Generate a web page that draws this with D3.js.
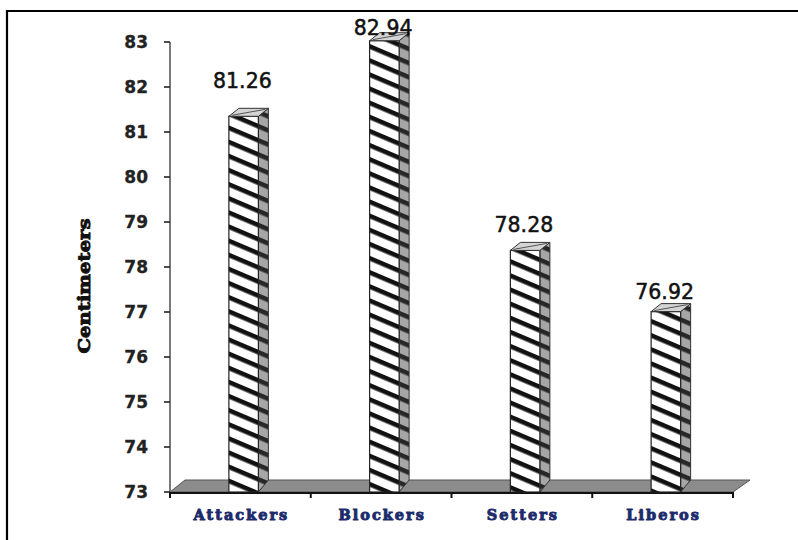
<!DOCTYPE html>
<html>
<head>
<meta charset="utf-8">
<script src="https://cdn.jsdelivr.net/npm/d3@7"></script>
<style>
  html, body { margin: 0; padding: 0; background: #fff; }
  svg { display: block; }
</style>
</head>
<body>
<svg id="chart" width="798" height="540"></svg>
<script>
// Mean measurement per playing position (cm)
const categories = ["Attackers", "Blockers", "Setters", "Liberos"];
const values = [81.26, 82.94, 78.28, 76.92];
const yTicks = [73, 74, 75, 76, 77, 78, 79, 80, 81, 82, 83];
const yTitle = "Centimeters";

const svg = d3.select("#chart");

// Plot geometry
const plotLeft = 170, plotRight = 733, plotTop = 42, plotBottom = 492;
const depthX = 15, depthY = -12;   // floor depth offset
const barDX = 10, barDY = -8;      // bar depth offset
const barLift = 4;                 // bar front plane sits slightly above the axis plane

const x = d3.scaleBand().domain(categories).range([plotLeft, plotRight]).paddingInner(0).paddingOuter(0);
const y = d3.scaleLinear().domain([73, 83]).range([plotBottom, plotTop]);

// Hatch pattern (wide downward diagonal)
const defs = svg.append("defs");
const pat = defs.append("pattern")
  .attr("id", "hatch")
  .attr("patternUnits", "userSpaceOnUse")
  .attr("width", 14).attr("height", 13)
  .attr("patternTransform", "rotate(23)");
pat.append("rect").attr("x", 0).attr("y", 0).attr("width", 14).attr("height", 4.6).attr("fill", "#111");

// Outer frame (top and left edges)
svg.append("line").attr("x1", 7).attr("y1", 11).attr("x2", 798).attr("y2", 11)
  .attr("stroke", "#000").attr("stroke-width", 2.2);
svg.append("line").attr("x1", 7).attr("y1", 10).attr("x2", 7).attr("y2", 540)
  .attr("stroke", "#000").attr("stroke-width", 2.2);

// Floor
const floorPts = [
  [plotLeft, plotBottom], [plotRight, plotBottom],
  [plotRight + depthX + 2, plotBottom + depthY], [plotLeft + depthX, plotBottom + depthY]
];
svg.append("path")
  .attr("d", "M" + floorPts.map(p => p.join(",")).join("L") + "Z")
  .attr("fill", "#8c8c8c").attr("stroke", "#555").attr("stroke-width", 1);

// Value axis
svg.append("line").attr("x1", plotLeft).attr("y1", y(83)).attr("x2", plotLeft).attr("y2", plotBottom)
  .attr("stroke", "#7a7a7a").attr("stroke-width", 2);
const yAxis = svg.append("g");
yAxis.selectAll("line.tick").data(yTicks).join("line")
  .attr("class", "tick")
  .attr("x1", plotLeft - 6).attr("x2", plotLeft)
  .attr("y1", d => y(d)).attr("y2", d => y(d))
  .attr("stroke", "#222").attr("stroke-width", 1.6);
yAxis.selectAll("text").data(yTicks).join("text")
  .attr("x", plotLeft - 22).attr("y", d => y(d) + 6)
  .attr("text-anchor", "end")
  .attr("font-family", "DejaVu Sans, Verdana, sans-serif")
  .attr("font-weight", "bold").attr("font-size", 17)
  .attr("fill", "#222").attr("stroke", "#222").attr("stroke-width", 0.3)
  .text(d => d);

// Category axis
svg.append("line").attr("x1", plotLeft).attr("y1", plotBottom + 1).attr("x2", plotRight).attr("y2", plotBottom + 1)
  .attr("stroke", "#111").attr("stroke-width", 2);
const xTickPos = categories.map(c => x(c)).concat([plotRight]);
svg.selectAll("line.xtick").data(xTickPos).join("line")
  .attr("class", "xtick")
  .attr("x1", d => d).attr("x2", d => d)
  .attr("y1", plotBottom).attr("y2", plotBottom + 6)
  .attr("stroke", "#111").attr("stroke-width", 2);

// Bars
const bars = svg.append("g");
categories.forEach((c, i) => {
  const cx = x(c) + x.bandwidth() / 2;
  const x0 = cx - 11.5, x1 = cx + 18;
  const yt = y(values[i]) - barLift;
  const g = bars.append("g");
  const side = `M${x1},${yt}L${x1 + barDX},${yt + barDY}L${x1 + barDX},${plotBottom + depthY}L${x1},${plotBottom}Z`;
  const topFace = `M${x0},${yt}L${x1},${yt}L${x1 + barDX},${yt + barDY}L${x0 + barDX},${yt + barDY}Z`;
  // side face
  g.append("path").attr("d", side).attr("fill", "#a6a6a6");
  g.append("path").attr("d", side).attr("fill", "url(#hatch)").attr("opacity", 0.85);
  g.append("path").attr("d", side).attr("fill", "none").attr("stroke", "#333").attr("stroke-width", 1);
  // front face
  g.append("rect").attr("x", x0).attr("y", yt).attr("width", x1 - x0).attr("height", plotBottom - yt)
    .attr("fill", "#fff");
  g.append("rect").attr("x", x0).attr("y", yt).attr("width", x1 - x0).attr("height", plotBottom - yt)
    .attr("fill", "url(#hatch)");
  g.append("rect").attr("x", x0).attr("y", yt).attr("width", x1 - x0).attr("height", plotBottom - yt)
    .attr("fill", "none").attr("stroke", "#222").attr("stroke-width", 1.2);
  // top face
  g.append("path").attr("d", topFace).attr("fill", "#d4d4d4").attr("stroke", "#333").attr("stroke-width", 1);
  g.append("line")
    .attr("x1", x0 + 3).attr("y1", yt - 1).attr("x2", x1 + barDX - 3).attr("y2", yt + barDY + 1)
    .attr("stroke", "#555").attr("stroke-width", 1);
});

// Value labels (lifted above each bar; the tallest is held inside the plot)
const labelLift = [32, 10, 22, 17];
svg.selectAll("text.val").data(values).join("text")
  .attr("class", "val")
  .attr("x", (d, i) => x(categories[i]) + x.bandwidth() / 2 + 2)
  .attr("y", (d, i) => y(d) - labelLift[i])
  .attr("text-anchor", "middle")
  .attr("font-family", "DejaVu Sans, Verdana, sans-serif")
  .attr("font-size", 20.5)
  .attr("fill", "#111")
  .attr("stroke", "#111").attr("stroke-width", 0.5)
  .text(d => d.toFixed(2));

// Category labels
svg.selectAll("text.cat").data(categories).join("text")
  .attr("class", "cat")
  .attr("x", d => x(d) + x.bandwidth() / 2 + 1)
  .attr("y", plotBottom + 28)
  .attr("text-anchor", "middle")
  .attr("font-family", "DejaVu Serif, serif")
  .attr("font-weight", "bold").attr("font-size", 14.5)
  .attr("letter-spacing", 2)
  .attr("fill", "#1c2b6b").attr("stroke", "#1c2b6b").attr("stroke-width", 0.9)
  .text(d => d);

// Value axis title
svg.append("text")
  .attr("transform", "translate(90,286) rotate(-90)")
  .attr("text-anchor", "middle")
  .attr("font-family", "DejaVu Serif, serif")
  .attr("font-weight", "bold").attr("font-size", 17)
  .attr("textLength", 135).attr("lengthAdjust", "spacingAndGlyphs")
  .attr("fill", "#111").attr("stroke", "#111").attr("stroke-width", 0.9)
  .text(yTitle);
</script>
</body>
</html>
